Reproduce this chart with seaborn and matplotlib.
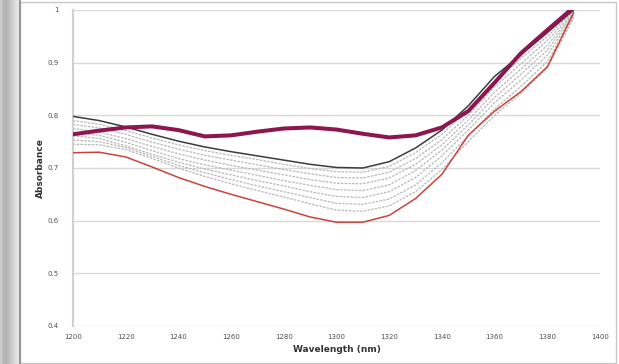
'''
Absorbance spectra: a bundle of reference spectra with one highlighted sample.
'''
import matplotlib
matplotlib.use('Agg')
import matplotlib.pyplot as plt
import numpy as np
import seaborn as sns

wavelength = [1200, 1210, 1220, 1230, 1240, 1250, 1260, 1270, 1280, 1290,
              1300, 1310, 1320, 1330, 1340, 1350, 1360, 1370, 1380, 1390]

upper = [.798, .790, .778, .764, .751, .740, .731, .723, .715, .707,
         .701, .700, .712, .738, .772, .818, .874, .915, .957, 1.0]
lower = [.729, .730, .721, .702, .682, .665, .650, .636, .622, .607,
         .597, .597, .610, .642, .688, .762, .808, .845, .892, .995]
sample = [.764, .771, .777, .779, .772, .760, .762, .769, .775, .777,
          .773, .765, .758, .762, .777, .808, .862, .918, .962, 1.005]

gray_1 = [.790, .783, .771, .757, .744, .733, .724, .716, .707, .699,
          .693, .692, .703, .729, .764, .810, .864, .908, .950, .998]
gray_2 = [.783, .776, .764, .749, .736, .724, .715, .706, .697, .689,
          .682, .681, .692, .718, .754, .800, .854, .898, .942, .996]
gray_3 = [.775, .768, .756, .741, .727, .715, .705, .696, .687, .678,
          .671, .670, .681, .707, .744, .791, .844, .888, .933, .994]
gray_4 = [.768, .762, .749, .733, .718, .706, .696, .686, .676, .667,
          .659, .657, .668, .695, .734, .782, .834, .878, .924, .992]
gray_5 = [.761, .756, .742, .726, .711, .698, .687, .676, .666, .655,
          .646, .644, .655, .682, .723, .772, .824, .867, .914, .990]
gray_6 = [.753, .750, .739, .722, .705, .691, .678, .666, .655, .644,
          .633, .631, .641, .668, .710, .761, .812, .855, .902, .988]
gray_7 = [.745, .744, .735, .718, .700, .684, .670, .657, .645, .632,
          .620, .618, .628, .655, .697, .750, .800, .842, .890, .985]

y_ticks = [0.4, 0.5, 0.6, 0.7, 0.8, 0.9, 1.0]
y_labels = ['0.4', '0.5', '0.6', '0.7', '0.8', '0.9', '1']
x_ticks = [1200, 1220, 1240, 1260, 1280, 1300, 1320, 1340, 1360, 1380, 1400]

sns.set_style('white')
fig = plt.figure(figsize=(6.19, 3.64), dpi=100)

# grey shadow strip on the left of the panel
strip = fig.add_axes([0, 0, 20 / 619, 1])
shade = np.array([[0.80, 0.72, 0.70, 0.74, 0.79, 0.84, 0.88, 0.90]])
strip.imshow(shade, aspect='auto', cmap='gray', vmin=0, vmax=1, extent=[0, 1, 0, 1])
strip.axis('off')
fig.add_artist(plt.Line2D([20 / 619, 20 / 619], [0, 1], color='#8a8a8a', lw=1.2))
fig.add_artist(plt.Rectangle((20 / 619, 1.5 / 364), 596 / 619, 361 / 364, fill=False,
                             edgecolor='#c8c8c8', lw=1))

ax = fig.add_axes([73 / 619, 38 / 364, 527 / 619, 316 / 364])

grays = [gray_1, gray_2, gray_3, gray_4, gray_5, gray_6, gray_7]
for g in grays:
    sns.lineplot(x=wavelength, y=g, ax=ax, color='#b8b8b8', lw=0.9,
                 linestyle=(0, (2, 1)), zorder=2)
sns.lineplot(x=wavelength, y=upper, ax=ax, color='#3c3c3c', lw=1.1, zorder=3)
sns.lineplot(x=wavelength, y=lower, ax=ax, color='#c8443a', lw=1.1, zorder=3)
sns.lineplot(x=wavelength, y=sample, ax=ax, color='#8d1650', lw=2.9, zorder=4,
             solid_capstyle='round', solid_joinstyle='round')

ax.set_xlim(1200, 1400)
ax.set_ylim(0.4, 1.0)
ax.set_yticks(y_ticks)
ax.set_yticklabels(y_labels)
ax.set_xticks(x_ticks)
ax.set_xticklabels([str(t) for t in x_ticks])
ax.tick_params(labelsize=5, colors='#505050', length=2, pad=8)
ax.tick_params(axis='x', length=0, pad=6)
ax.grid(axis='y', color='#d9d9d9', lw=1)
ax.grid(axis='x', visible=False)
for side in ['top', 'right', 'bottom']:
    ax.spines[side].set_visible(False)
ax.spines['left'].set_color('#d0d0d0')
ax.spines['left'].set_linewidth(1.5)

ax.set_xlabel('Wavelength (nm)', fontsize=6.5, fontweight='bold', color='#333333', labelpad=3)
ax.set_ylabel('Absorbance', fontsize=6.5, fontweight='bold', color='#333333', labelpad=2)

fig.savefig('out.png', dpi=100)
